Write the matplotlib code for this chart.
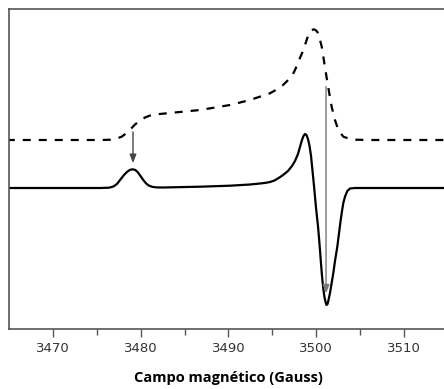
import matplotlib
matplotlib.use("Agg")
import matplotlib.pyplot as plt

# Magnetic field (G) and first-derivative EPR signal (arbitrary units)
field_deriv = [3465.0, 3470.81, 3475.37, 3476.40, 3476.90, 3477.30, 3477.70, 3478.10,
               3478.50, 3478.80, 3479.10, 3479.40, 3479.70, 3480.00, 3480.30, 3480.60,
               3480.90, 3481.30, 3481.80, 3482.50, 3486.77, 3490.19, 3492.46, 3493.60,
               3494.20, 3494.74, 3495.20, 3495.54, 3495.90, 3496.23, 3496.79, 3497.25,
               3497.59, 3497.93, 3498.16, 3498.39, 3498.56, 3498.73, 3498.90, 3499.07,
               3499.25, 3499.42, 3499.59, 3499.76, 3499.99, 3500.21, 3500.33, 3500.44,
               3500.56, 3500.67, 3500.82, 3500.95, 3501.07, 3501.18, 3501.30, 3501.41,
               3501.58, 3501.75, 3501.96, 3502.15, 3502.41, 3502.61, 3502.80, 3502.95,
               3503.10, 3503.29, 3503.55, 3503.86, 3504.43, 3515.0]
signal_deriv = [0, 0, 0, 0.3, 1.5, 4, 8.5, 13,
                16.5, 18.2, 18.7, 18, 15.5, 11.8, 8, 4.8,
                2.6, 1.2, 0.6, 0.5, 1.3, 2.3, 3.5, 4.5,
                5.1, 6, 7.3, 9, 11, 13, 17, 22,
                27, 34, 41, 48, 52, 54, 53, 49,
                42, 32, 17, 2, -20, -38, -50, -62,
                -76, -88, -101, -109, -114, -117, -116, -112,
                -105, -96, -85, -73, -59, -45, -32, -23,
                -15, -8.7, -3, -0.5, 0, 0]

# Magnetic field (G) and absorption signal (arbitrary units, offset)
field_abs = [3465.0, 3475.37, 3476.70, 3477.27, 3477.84, 3478.41, 3478.98, 3479.36,
             3479.93, 3480.50, 3481.07, 3481.64, 3482.97, 3486.77, 3490.19, 3492.46,
             3494.74, 3495.50, 3496.23, 3496.70, 3497.02, 3497.30, 3497.59, 3497.80,
             3497.97, 3498.47, 3498.73, 3499.11, 3499.50, 3499.76, 3500.00, 3500.25,
             3500.64, 3500.82, 3501.21, 3501.50, 3501.77, 3502.15, 3502.53, 3503.10,
             3503.86, 3504.50, 3506.0, 3515.0]
signal_abs = [48, 48, 48.3, 49.5, 51.3, 55, 60, 63.5,
              67.5, 70.5, 72.5, 73.5, 74.7, 78, 83, 88,
              94.7, 98.5, 103, 107, 110, 113, 118, 122,
              126.3, 136.3, 143, 153, 158, 158.7, 157.5, 154.7,
              141.3, 131.3, 109.7, 94.7, 81.3, 68, 58, 51.3,
              49, 48.3, 48, 48]

# Marked features: (field, start, end)
arrow_small = (3479.13, 56, 25)
arrow_large = (3501.13, 101.3, -105.3)

major_ticks = [3470, 3480, 3490, 3500, 3510]
minor_ticks = [3475, 3485, 3495, 3505]

fig = plt.figure(figsize=(4.44, 3.89), dpi=100)
ax = fig.add_axes([9 / 444, 60 / 389, 438.75 / 444, 320 / 389])

ax.plot(field_abs, signal_abs, color="black", lw=1.6, linestyle=(1, (3.6, 3.6)),
        solid_joinstyle="round")
ax.plot(field_deriv, signal_deriv, color="black", lw=1.6, solid_joinstyle="round")

ax.annotate("", xy=(arrow_small[0], arrow_small[2]), xytext=(arrow_small[0], arrow_small[1]),
            arrowprops=dict(arrowstyle="-|>,head_length=0.5,head_width=0.2",
                            color="#444444", lw=1.0, shrinkA=0, shrinkB=0))
ax.annotate("", xy=(arrow_large[0], arrow_large[2]), xytext=(arrow_large[0], arrow_large[1]),
            arrowprops=dict(arrowstyle="-|>,head_length=0.5,head_width=0.2",
                            color="#777777", lw=1.0, shrinkA=0, shrinkB=0))

ax.set_xlim(3465, 3515)
ax.set_ylim(-141, 179)

ax.set_xticks(major_ticks)
ax.set_xticks(minor_ticks, minor=True)
ax.set_yticks([])
ax.tick_params(axis="x", which="major", direction="out", length=6, width=1,
               color="#555555", labelsize=9.5, labelcolor="#333333", pad=3)
ax.tick_params(axis="x", which="minor", direction="out", length=4, width=1,
               color="#555555")
for spine in ax.spines.values():
    spine.set_color("#555555")
    spine.set_linewidth(1.2)

ax.set_xlabel("Campo magnético (Gauss)", fontsize=10.5, fontweight="bold",
              family=["Open Sans", "DejaVu Sans"], labelpad=12)

fig.savefig("out.png", dpi=100)
